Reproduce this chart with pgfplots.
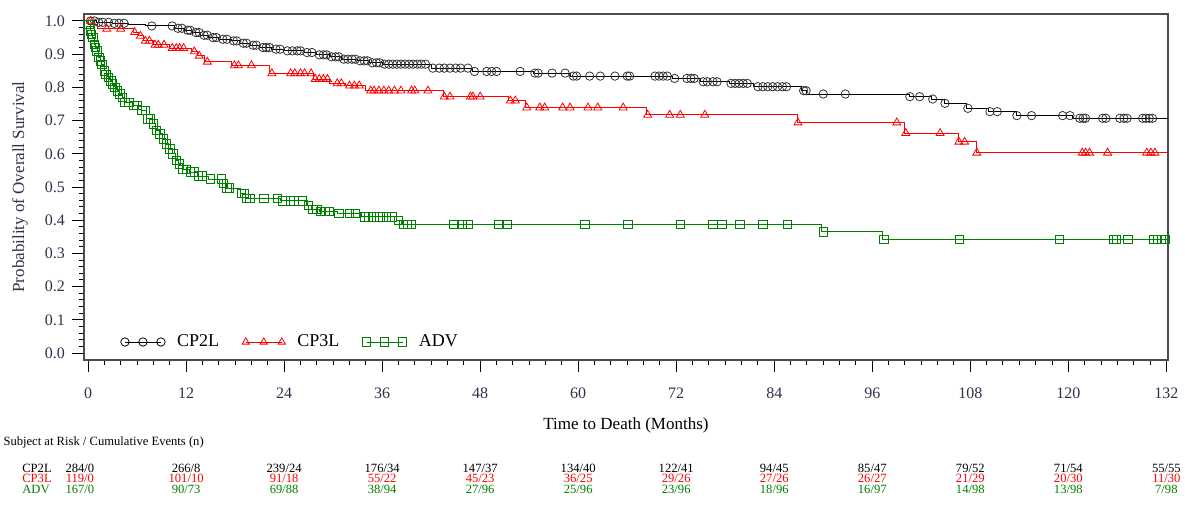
\documentclass[border=0pt]{standalone}
\usepackage{fontspec}
\setmainfont{Liberation Serif}
\usepackage{pgfplots}
\pgfplotsset{compat=1.18}
\definecolor{tklab}{RGB}{45,50,75}
\definecolor{kmgreen}{RGB}{0,128,0}
\definecolor{kmred}{RGB}{255,0,0}

% Kaplan-Meier steps (time, survival)
\pgfplotstableread{
t s
0 1.0
1.0 0.996
3.0 0.993
5.0 0.99
7.0 0.985
10.6 0.978
11.8 0.972
12.8 0.965
13.8 0.957
14.8 0.95
16.0 0.945
17.5 0.94
18.5 0.933
19.8 0.927
21.0 0.92
22.5 0.915
24.0 0.91
26.5 0.905
28.0 0.898
29.5 0.892
31.0 0.885
33.0 0.88
34.5 0.874
36.0 0.87
42.0 0.858
47.0 0.848
54.5 0.843
59.0 0.834
71.5 0.827
75.0 0.817
78.5 0.812
81.5 0.802
87.3 0.79
88.0 0.780
100.5 0.772
103.2 0.765
104.8 0.752
107.5 0.737
110.2 0.727
113.6 0.715
120.5 0.707
132.2 0.707
}\cptwo
\pgfplotstableread{
t s
0 1.0
0.5 0.99
1.2 0.976
5.6 0.966
6.2 0.955
6.8 0.94
8.0 0.928
10.0 0.918
12.6 0.908
13.4 0.895
14.2 0.877
17.5 0.866
22.2 0.842
27.6 0.825
29.6 0.812
31.5 0.805
34.0 0.79
43.5 0.772
51.5 0.76
53.5 0.739
68.3 0.717
86.8 0.694
100.0 0.662
106.5 0.636
108.7 0.603
132.2 0.603
}\cpthree
\pgfplotstableread{
t s
0 1.0
0.1 0.99
0.3 0.97
0.4 0.96
0.6 0.95
0.8 0.93
0.9 0.92
1.1 0.91
1.3 0.89
1.5 0.88
1.7 0.87
2.0 0.85
2.2 0.84
2.5 0.83
2.8 0.82
3.0 0.81
3.3 0.80
3.6 0.79
3.9 0.78
4.2 0.77
4.5 0.755
5.5 0.745
6.5 0.73
7.2 0.705
7.9 0.69
8.3 0.67
8.7 0.66
9.1 0.645
9.5 0.63
9.9 0.615
10.3 0.60
10.7 0.58
11.1 0.57
11.5 0.553
12.4 0.545
13.4 0.533
14.8 0.524
16.5 0.51
16.9 0.497
18.6 0.48
19.3 0.466
23.6 0.458
26.8 0.445
27.3 0.432
28.3 0.426
30.5 0.42
33.5 0.41
37.8 0.40
38.4 0.388
89.8 0.365
97.3 0.342
132.2 0.342
}\adv

% censored observations
\pgfplotstableread{
t s
0.3 1.0
0.8 1.0
1.3 0.996
1.8 0.996
2.5 0.996
3.2 0.993
3.8 0.993
4.4 0.993
7.8 0.985
10.3 0.985
11.0 0.978
11.5 0.978
12.2 0.972
12.5 0.972
13.2 0.965
13.6 0.965
14.2 0.957
14.6 0.957
15.3 0.95
15.7 0.95
16.5 0.945
17.0 0.945
17.8 0.94
18.2 0.94
19.0 0.933
19.4 0.933
20.2 0.927
20.6 0.927
21.4 0.92
21.8 0.92
22.2 0.92
23.0 0.915
23.5 0.915
24.4 0.91
25.0 0.91
25.6 0.91
26.0 0.91
26.8 0.905
27.4 0.905
28.3 0.898
28.8 0.898
29.2 0.898
29.8 0.892
30.3 0.892
30.7 0.892
31.3 0.885
31.8 0.885
32.3 0.885
32.7 0.885
33.3 0.88
33.8 0.88
34.2 0.88
34.8 0.874
35.3 0.874
35.7 0.874
36.3 0.87
36.8 0.87
37.3 0.87
37.8 0.87
38.3 0.87
38.8 0.87
39.3 0.87
39.8 0.87
40.3 0.87
40.8 0.87
41.3 0.87
42.2 0.858
43.0 0.858
43.6 0.858
44.3 0.858
45.0 0.858
45.6 0.858
46.5 0.858
47.3 0.848
48.8 0.848
49.4 0.848
50.0 0.848
52.9 0.848
54.7 0.843
55.1 0.843
56.8 0.843
58.4 0.843
59.4 0.834
59.8 0.834
61.4 0.834
62.7 0.834
64.5 0.834
66.0 0.834
66.3 0.834
69.4 0.834
69.9 0.834
70.4 0.834
70.9 0.834
71.8 0.827
73.3 0.827
73.8 0.827
74.2 0.827
75.3 0.817
75.8 0.817
76.5 0.817
77.0 0.817
78.7 0.812
79.2 0.812
79.7 0.812
80.2 0.812
80.7 0.812
82.0 0.802
82.6 0.802
83.2 0.802
83.8 0.802
84.4 0.802
85.0 0.802
85.5 0.802
87.6 0.79
87.9 0.79
90.0 0.78
92.7 0.78
100.6 0.772
101.8 0.772
103.4 0.765
104.9 0.752
107.7 0.737
110.4 0.727
111.3 0.727
113.7 0.715
115.5 0.715
119.3 0.715
120.2 0.715
121.4 0.707
121.8 0.707
122.1 0.707
124.2 0.707
124.6 0.707
126.3 0.707
126.8 0.707
127.2 0.707
129.1 0.707
129.5 0.707
129.9 0.707
130.3 0.707
}\cptwocens
\pgfplotstableread{
t s
0.3 1.0
2.3 0.976
4.0 0.976
5.7 0.966
6.4 0.955
7.0 0.94
7.5 0.94
8.2 0.928
8.6 0.928
9.3 0.928
10.3 0.918
10.8 0.918
11.2 0.918
11.7 0.918
13.0 0.908
13.6 0.895
14.6 0.877
17.9 0.866
18.4 0.866
20.0 0.866
22.5 0.842
24.8 0.842
25.3 0.842
26.0 0.842
26.5 0.842
27.3 0.842
27.8 0.825
28.3 0.825
28.8 0.825
29.3 0.825
30.5 0.812
31.0 0.812
32.0 0.805
32.6 0.805
33.2 0.805
34.6 0.79
35.0 0.79
35.6 0.79
36.2 0.79
36.8 0.79
37.5 0.79
38.3 0.79
39.6 0.79
40.0 0.79
41.6 0.79
43.6 0.772
44.3 0.772
46.8 0.772
47.1 0.772
48.0 0.772
51.7 0.76
52.3 0.76
53.7 0.739
55.3 0.739
55.9 0.739
58.1 0.739
59.0 0.739
61.2 0.739
62.4 0.739
65.5 0.739
68.5 0.717
71.2 0.717
72.5 0.717
75.5 0.717
86.9 0.694
99.0 0.694
100.1 0.662
104.3 0.662
106.6 0.636
107.3 0.636
108.8 0.603
121.7 0.603
122.1 0.603
122.6 0.603
124.8 0.603
129.6 0.603
130.1 0.603
130.6 0.603
}\cpthreecens
\pgfplotstableread{
t s
0.1 0.99
0.3 0.97
0.4 0.96
0.6 0.95
0.8 0.93
0.9 0.92
1.1 0.91
1.3 0.89
1.5 0.88
1.7 0.87
2.0 0.85
2.2 0.84
2.5 0.83
2.8 0.82
3.0 0.81
3.3 0.80
3.6 0.79
3.9 0.78
4.2 0.77
4.5 0.755
5.0 0.755
5.6 0.745
6.0 0.745
6.6 0.73
7.0 0.73
7.3 0.705
7.6 0.705
8.0 0.69
8.4 0.67
8.8 0.66
9.2 0.645
9.6 0.63
10.0 0.615
10.4 0.60
10.8 0.58
11.2 0.57
11.6 0.553
12.0 0.553
12.5 0.545
13.0 0.545
13.5 0.533
14.0 0.533
15.0 0.524
16.3 0.524
16.6 0.51
17.0 0.497
17.3 0.497
18.8 0.48
19.1 0.48
19.4 0.466
19.8 0.466
21.5 0.466
23.2 0.466
23.8 0.458
24.8 0.458
25.2 0.458
26.2 0.458
27.0 0.445
27.5 0.432
28.0 0.432
28.5 0.426
29.0 0.426
29.5 0.426
30.7 0.42
32.0 0.42
32.7 0.42
33.8 0.41
34.3 0.41
35.0 0.41
35.7 0.41
36.5 0.41
37.2 0.41
38.0 0.40
38.6 0.388
39.1 0.388
39.6 0.388
44.7 0.388
45.8 0.388
46.5 0.388
50.2 0.388
51.3 0.388
60.8 0.388
66.1 0.388
72.5 0.388
76.5 0.388
77.6 0.388
79.8 0.388
82.6 0.388
85.6 0.388
90.0 0.365
97.4 0.342
106.7 0.342
118.9 0.342
125.5 0.342
125.9 0.342
127.3 0.342
130.4 0.342
130.9 0.342
131.4 0.342
131.8 0.342
}\advcens

\begin{document}
\begin{tikzpicture}
\useasboundingbox (-42pt,-72.5pt) rectangle (550.5pt,180pt);
\begin{axis}[
  scale only axis, width=542pt, height=173pt,
  xmin=-0.5, xmax=132.2, ymin=-0.021, ymax=1.021,
  clip=false,
  axis line style={draw=black!70, line width=0.7pt},
  tick align=outside, xtick pos=lower, ytick pos=left,
  major tick length=6pt, minor tick length=2.5pt,
  every tick/.style={black, line width=0.5pt},
  xtick={0,12,...,132}, minor x tick num=5,
  ytick={0,0.1,...,1.0}, minor y tick num=4,
  /pgf/number format/assume math mode=true,
  tick label style={font=\fontsize{8}{9}\selectfont, text=tklab},
  xticklabel style={yshift=-4.5pt},
  yticklabel style={/pgf/number format/.cd, fixed, fixed zerofill, precision=1},
  xlabel={Time to Death (Months)},
  ylabel={Probability of Overall Survival},
  label style={font=\fontsize{8.5}{10}\selectfont},
  xlabel style={at={(axis description cs:0.5,-0.188)}, anchor=center},
  ylabel style={at={(axis description cs:-0.059,0.5)}, anchor=center, text=tklab},
  legend style={draw=none, fill=none, at={(axis description cs:0.028,0.052)}, anchor=west,
    font=\fontsize{9}{10}\selectfont, legend columns=3,
    /tikz/every odd column/.append style={column sep=4pt},
    /tikz/every even column/.append style={column sep=9.5pt}},
  legend image code/.code={\draw[mark repeat=1,#1] plot coordinates {(1pt,0pt) (10pt,0pt) (19pt,0pt)};},
  mark size=2.1pt,
]
\addlegendimage{black, line width=0.5pt, mark=o, mark options={line width=0.4pt}}
\addlegendentry{CP2L}
\addlegendimage{kmred, line width=0.5pt, mark=triangle, mark options={line width=0.4pt}}
\addlegendentry{CP3L}
\addlegendimage{kmgreen, line width=0.5pt, mark=square, mark options={line width=0.4pt}}
\addlegendentry{ADV}

\addplot[const plot, black, line width=0.5pt, forget plot] table[x=t,y=s] {\cptwo};
\addplot[const plot, kmred, line width=0.5pt, forget plot] table[x=t,y=s] {\cpthree};
\addplot[const plot, kmgreen, line width=0.5pt, forget plot] table[x=t,y=s] {\adv};

\addplot[only marks, mark=o, black!80, mark options={line width=0.4pt}, forget plot] table[x=t,y=s] {\cptwocens};
\addplot[only marks, mark=triangle, kmred, mark size=2.3pt, mark options={line width=0.4pt}, forget plot] table[x=t,y=s] {\cpthreecens};
\addplot[only marks, mark=square, kmgreen, mark size=2.1pt, mark options={line width=0.4pt}, forget plot] table[x=t,y=s] {\advcens};

% risk table
\tikzset{risk/.style={font=\fontsize{6.3}{7}\selectfont, anchor=center, inner sep=0pt}}
\node[risk, anchor=west] at (axis cs:-10.4,-0.268) {Subject at Risk / Cumulative Events (n)};
\node[risk, anchor=west] at (axis cs:-8.1,-0.346) {CP2L};
\node[risk, anchor=west, text=kmred] at (axis cs:-8.1,-0.377) {CP3L};
\node[risk, anchor=west, text=kmgreen] at (axis cs:-8.1,-0.41) {ADV};

\node[risk] at (axis cs:-1,-0.346) {284/0};
\node[risk] at (axis cs:12,-0.346) {266/8};
\node[risk] at (axis cs:24,-0.346) {239/24};
\node[risk] at (axis cs:36,-0.346) {176/34};
\node[risk] at (axis cs:48,-0.346) {147/37};
\node[risk] at (axis cs:60,-0.346) {134/40};
\node[risk] at (axis cs:72,-0.346) {122/41};
\node[risk] at (axis cs:84,-0.346) {94/45};
\node[risk] at (axis cs:96,-0.346) {85/47};
\node[risk] at (axis cs:108,-0.346) {79/52};
\node[risk] at (axis cs:120,-0.346) {71/54};
\node[risk] at (axis cs:132,-0.346) {55/55};

\node[risk, text=kmred] at (axis cs:-1,-0.377) {119/0};
\node[risk, text=kmred] at (axis cs:12,-0.377) {101/10};
\node[risk, text=kmred] at (axis cs:24,-0.377) {91/18};
\node[risk, text=kmred] at (axis cs:36,-0.377) {55/22};
\node[risk, text=kmred] at (axis cs:48,-0.377) {45/23};
\node[risk, text=kmred] at (axis cs:60,-0.377) {36/25};
\node[risk, text=kmred] at (axis cs:72,-0.377) {29/26};
\node[risk, text=kmred] at (axis cs:84,-0.377) {27/26};
\node[risk, text=kmred] at (axis cs:96,-0.377) {26/27};
\node[risk, text=kmred] at (axis cs:108,-0.377) {21/29};
\node[risk, text=kmred] at (axis cs:120,-0.377) {20/30};
\node[risk, text=kmred] at (axis cs:132,-0.377) {11/30};

\node[risk, text=kmgreen] at (axis cs:-1,-0.41) {167/0};
\node[risk, text=kmgreen] at (axis cs:12,-0.41) {90/73};
\node[risk, text=kmgreen] at (axis cs:24,-0.41) {69/88};
\node[risk, text=kmgreen] at (axis cs:36,-0.41) {38/94};
\node[risk, text=kmgreen] at (axis cs:48,-0.41) {27/96};
\node[risk, text=kmgreen] at (axis cs:60,-0.41) {25/96};
\node[risk, text=kmgreen] at (axis cs:72,-0.41) {23/96};
\node[risk, text=kmgreen] at (axis cs:84,-0.41) {18/96};
\node[risk, text=kmgreen] at (axis cs:96,-0.41) {16/97};
\node[risk, text=kmgreen] at (axis cs:108,-0.41) {14/98};
\node[risk, text=kmgreen] at (axis cs:120,-0.41) {13/98};
\node[risk, text=kmgreen] at (axis cs:132,-0.41) {7/98};
\end{axis}
\end{tikzpicture}
\end{document}
